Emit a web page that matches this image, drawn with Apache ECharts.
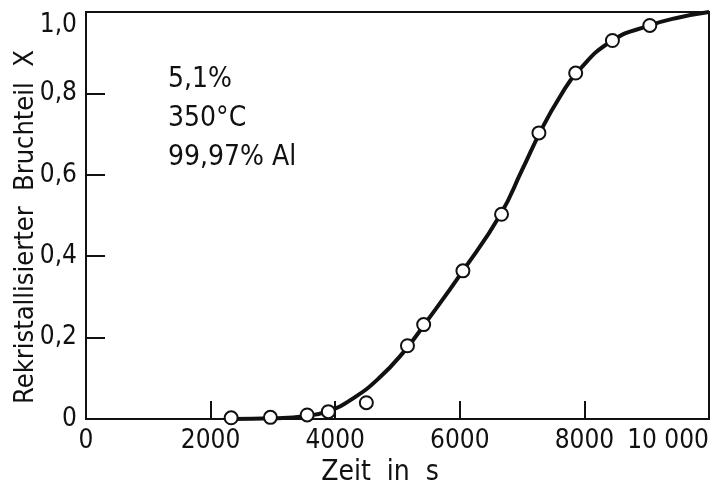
<!DOCTYPE html>
<html>
<head>
<meta charset="utf-8">
<script src="https://cdn.jsdelivr.net/npm/echarts@6/dist/echarts.min.js"></script>
<style>html,body{margin:0;padding:0;background:#fff}#c{width:713px;height:490px}</style>
</head>
<body>
<div id="c"></div>
<script>
// Measured points (time in s, recrystallized fraction X)
var pointTime = [2330, 2960, 3550, 3890, 4500, 5160, 5420, 6050, 6670, 7270, 7860, 8450, 9050];
var pointFrac = [0.003, 0.004, 0.010, 0.018, 0.040, 0.180, 0.232, 0.364, 0.503, 0.703, 0.850, 0.930, 0.967];
// Fitted curve
var curveTime = [2330, 3000, 3500, 3900, 4300, 4700, 5100, 5450, 6050, 6650, 7000, 7300, 7600, 7900, 8450, 9050, 9500, 10000];
var curveFrac = [0.000, 0.002, 0.007, 0.020, 0.052, 0.100, 0.165, 0.236, 0.364, 0.502, 0.612, 0.708, 0.790, 0.855, 0.930, 0.967, 0.986, 1.000];
var xTicks = [0, 2000, 4000, 6000, 8000, 10000];
var yTicks = [0, 0.2, 0.4, 0.6, 0.8, 1.0];
var noteLines = ['5,1%', '350°C', '99,97% Al'];
var xTitle = 'Zeit  in  s';
var yTitle = 'Rekristallisierter  Bruchteil  X';

var FONT = '"Liberation Sans Narrow", "DejaVu Sans Condensed", "Roboto Condensed", sans-serif';

function zip(a, b) { return a.map(function (v, i) { return [v, b[i]]; }); }

var chart = echarts.init(document.getElementById('c'), null, { renderer: 'canvas' });
chart.setOption({
  animation: false,
  backgroundColor: '#fff',
  grid: { left: 86, right: 4, top: 12, bottom: 71, containLabel: false, outerBoundsMode: 'none',
          show: true, borderColor: '#111', borderWidth: 2, backgroundColor: 'transparent' },
  xAxis: {
    type: 'value', min: xTicks[0], max: xTicks[xTicks.length - 1], interval: 2000,
    name: xTitle, nameLocation: 'middle', nameGap: 40,
    nameTextStyle: { fontFamily: FONT, fontSize: 28, color: '#111', padding: [0, 35, 0, 0] },
    axisLine: { show: true, lineStyle: { color: '#111', width: 2 } },
    axisTick: { show: true, inside: true, length: 18, lineStyle: { color: '#111', width: 2 } },
    axisLabel: {
      fontFamily: FONT, fontSize: 26, color: '#111', margin: 9, alignMaxLabel: 'right',
      formatter: function (v) { return v >= 10000 ? String(v).replace(/(\d+)(\d{3})$/, '$1 $2') : String(v); }
    },
    splitLine: { show: false }
  },
  yAxis: {
    type: 'value', min: yTicks[0], max: yTicks[yTicks.length - 1], interval: 0.2,
    axisLine: { show: true, lineStyle: { color: '#111', width: 2 } },
    axisTick: { show: true, inside: true, length: 19, lineStyle: { color: '#111', width: 2 } },
    axisLabel: {
      fontFamily: FONT, fontSize: 26, color: '#111', margin: 9, verticalAlignMaxLabel: 'top',
      formatter: function (v) { return v === 0 ? '0' : v.toFixed(1).replace('.', ','); }
    },
    splitLine: { show: false }
  },
  graphic: [{
    type: 'text', left: 168, top: 60, z: 10,
    style: { text: noteLines.join('\n'), font: '28px ' + FONT, fill: '#111', lineHeight: 39 }
  }, {
    type: 'text', x: 26, y: 227, rotation: Math.PI / 2, z: 10,
    style: { text: yTitle, font: '27px ' + FONT, fill: '#111', align: 'center', verticalAlign: 'middle' }
  }],
  series: [
    {
      type: 'line', data: zip(curveTime, curveFrac), smooth: 0.5, showSymbol: false, symbol: 'none',
      lineStyle: { color: '#111', width: 4 }, z: 2, silent: true
    },
    {
      type: 'scatter', data: zip(pointTime, pointFrac), symbol: 'circle', symbolSize: 13,
      itemStyle: { color: '#fff', borderColor: '#111', borderWidth: 2, opacity: 1 }, z: 3, silent: true
    }
  ]
});
</script>
</body>
</html>
